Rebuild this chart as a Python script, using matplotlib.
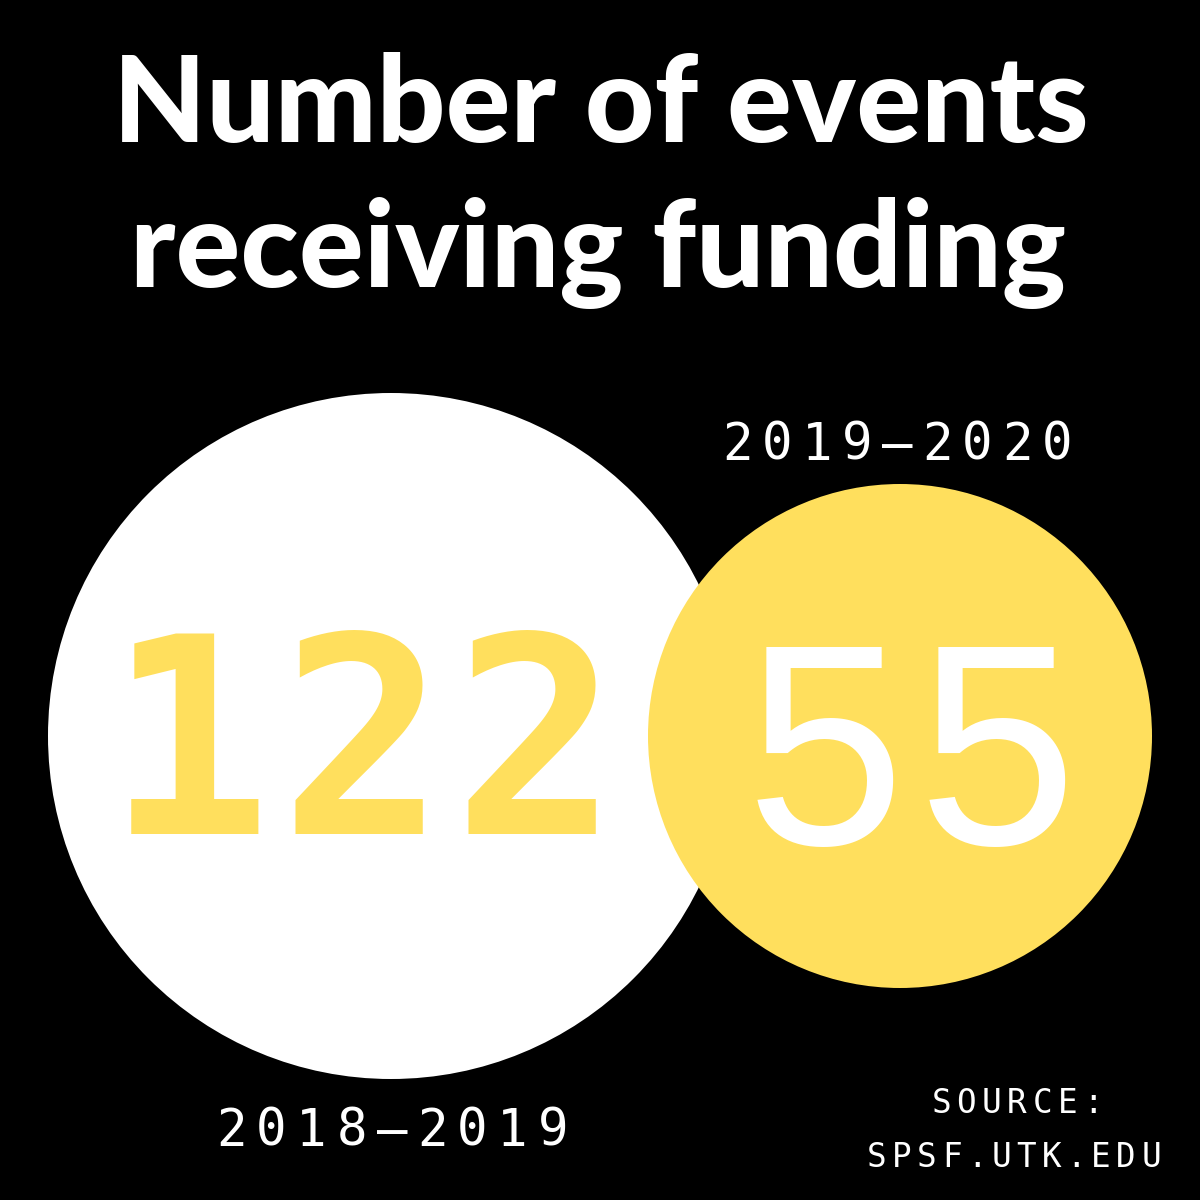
import matplotlib
matplotlib.use("Agg")
import matplotlib.pyplot as plt
from matplotlib.patches import Circle

# ---- data ----
title_lines = ["Number of events", "receiving funding"]
periods = ["2018–2019", "2019–2020"]
values = [122, 55]
source_lines = ["SOURCE:", "SPSF.UTK.EDU"]

BG = "#000000"
WHITE = "#FFFFFF"
YELLOW = "#FFDF5D"

fig = plt.figure(figsize=(12, 12), dpi=100, facecolor=BG)
ax = fig.add_axes([0, 0, 1, 1])
ax.set_facecolor(BG)
ax.set_xlim(0, 1200)
ax.set_ylim(1200, 0)
ax.set_aspect("equal")
ax.axis("off")


def tracked(x_center, y_base, s, pitch, **kw):
    """Draw string s with fixed per-character pitch (letter spacing)."""
    n = len(s)
    x0 = x_center - pitch * (n - 1) / 2
    for i, ch in enumerate(s):
        ax.text(x0 + i * pitch, y_base, ch, ha="center", va="baseline", **kw)


# circles
circ_geom = [((391, 736), 343, WHITE), ((900, 736), 252, YELLOW)]
for (c, r, col) in circ_geom:
    ax.add_patch(Circle(c, r, facecolor=col, edgecolor="none", zorder=1))

# title
title_kw = dict(ha="center", va="baseline", color=WHITE, fontsize=87,
                fontfamily="Lato", fontweight="black", zorder=3)
ax.text(601, 142, title_lines[0], **title_kw)
ax.text(598, 287, title_lines[1], **title_kw)

# big numbers
tracked(362, 834, str(values[0]), 173, color=YELLOW, fontsize=198,
        fontfamily="DejaVu Sans Mono", fontweight="bold", zorder=3)
tracked(911, 844, str(values[1]), 172, color=WHITE, fontsize=206,
        fontfamily="Liberation Sans", zorder=3)

# period labels
tracked(392, 1146, periods[0], 40.2, color=WHITE, fontsize=36.5,
        fontfamily="DejaVu Sans Mono", zorder=3)
tracked(897, 460, periods[1], 40.0, color=WHITE, fontsize=36.5,
        fontfamily="DejaVu Sans Mono", zorder=3)

# source
tracked(1017, 1113, source_lines[0], 25.3, color=WHITE, fontsize=23.5,
        fontfamily="DejaVu Sans Mono", zorder=3)
tracked(1014, 1167, source_lines[1], 24.9, color=WHITE, fontsize=23.5,
        fontfamily="DejaVu Sans Mono", zorder=3)

fig.savefig("out.png", dpi=100, facecolor=BG)
